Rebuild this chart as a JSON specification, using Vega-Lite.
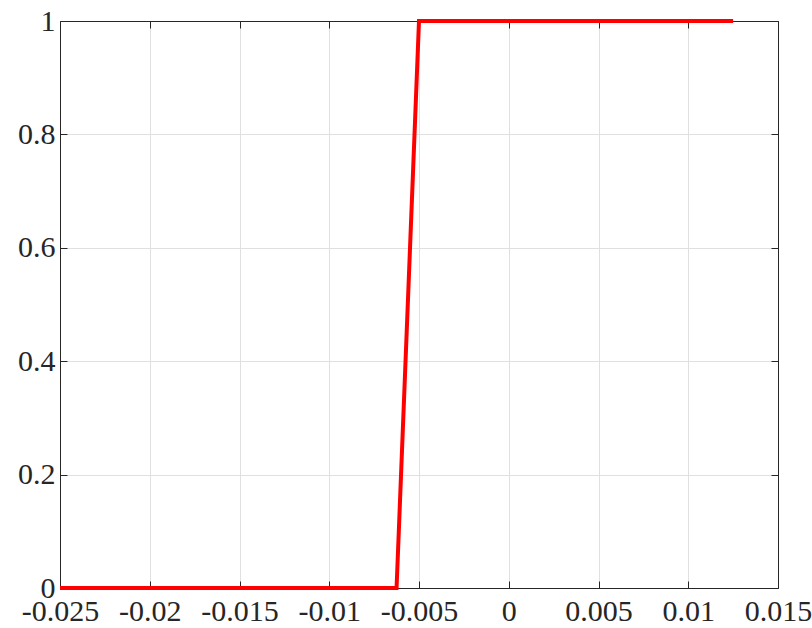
{
  "$schema": "https://vega.github.io/schema/vega-lite/v6.json",
  "width": 718,
  "height": 567,
  "autosize": {"type": "none"},
  "padding": {"left": 60, "top": 21, "right": 34, "bottom": 40},
  "background": "white",
  "config": {
    "view": {"stroke": null},
    "font": "Liberation Serif",
    "axis": {
      "labelFont": "Liberation Serif",
      "labelFontSize": 30,
      "labelColor": "#262626",
      "domainColor": "#262626",
      "tickColor": "#262626",
      "gridColor": "#e0e0e0",
      "gridWidth": 1,
      "labelOverlap": false,
      "labelFlush": false,
      "title": null
    }
  },
  "data": {
    "values": [
      {"x": -0.025, "y": 0},
      {"x": -0.00625, "y": 0},
      {"x": -0.005, "y": 1},
      {"x": 0.0125, "y": 1}
    ]
  },
  "layer": [
    {
      "mark": {"type": "line", "strokeOpacity": 0},
      "encoding": {
        "x": {"field": "x", "type": "quantitative", "scale": {"domain": [-0.025, 0.015], "nice": false, "zero": false},
          "axis": {"orient": "top", "labels": false, "grid": false, "tickSize": -7, "values": [-0.025, -0.02, -0.015, -0.01, -0.005, 0, 0.005, 0.01, 0.015]}},
        "y": {"field": "y", "type": "quantitative", "scale": {"domain": [0, 1], "nice": false},
          "axis": {"orient": "right", "labels": false, "grid": false, "tickSize": -7, "values": [0, 0.2, 0.4, 0.6, 0.8, 1]}}
      }
    },
    {
      "mark": {"type": "line", "color": "#ff0000", "strokeWidth": 4, "strokeCap": "butt", "strokeJoin": "miter"},
      "encoding": {
        "x": {"field": "x", "type": "quantitative", "scale": {"domain": [-0.025, 0.015], "nice": false, "zero": false},
          "axis": {"orient": "bottom", "grid": true, "tickSize": -7, "labelFontSize": 30, "labelPadding": 15, "labelOverlap": false, "labelFlush": false, "values": [-0.025, -0.02, -0.015, -0.01, -0.005, 0, 0.005, 0.01, 0.015], "labelExpr": "'' + datum.value"}},
        "y": {"field": "y", "type": "quantitative", "scale": {"domain": [0, 1], "nice": false},
          "axis": {"orient": "left", "grid": true, "tickSize": -7, "labelFontSize": 30, "labelPadding": 12, "labelOverlap": false, "labelFlush": false, "values": [0, 0.2, 0.4, 0.6, 0.8, 1], "labelExpr": "'' + datum.value"}}
      }
    }
  ],
  "resolve": {"axis": {"x": "independent", "y": "independent"}}
}
